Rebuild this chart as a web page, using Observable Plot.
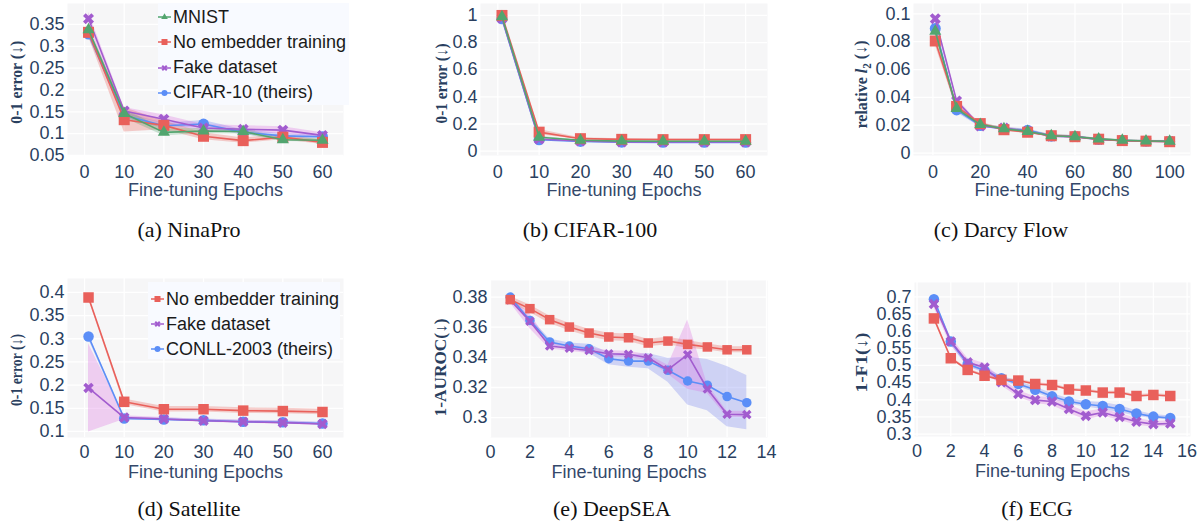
<!DOCTYPE html>
<html>
<head>
<meta charset="utf-8">
<script src="https://cdn.jsdelivr.net/npm/d3@7"></script>
<script src="https://cdn.jsdelivr.net/npm/@observablehq/plot@0.6"></script>
<style>
html,body{margin:0;padding:0;background:#fff;}
body{position:relative;width:1202px;height:523px;overflow:hidden;font-family:"Liberation Sans",Arial,sans-serif;}
.panel{position:absolute;}
.cap{position:absolute;font-family:"Liberation Serif","Times New Roman",serif;font-size:22px;color:#111;transform:translate(-50%,-50%);white-space:nowrap;line-height:1;}
.legend{position:absolute;background:#f8faff;}
.legend .row{position:absolute;left:0;height:24px;display:flex;align-items:center;font-size:18px;color:#1a1a1a;white-space:nowrap;}
</style>
</head>
<body>
<script>
// ================= DATA =================
const seriesLabels = {mnist: "MNIST", none: "No embedder training", fake: "Fake dataset", cifar: "CIFAR-10 (theirs)", conll: "CONLL-2003 (theirs)"};
const xTitle = "Fine-tuning Epochs";

// (a) NinaPro
const aEpochs = [1, 10, 20, 30, 40, 50, 60];
const aMnist = [0.338, 0.146, 0.103, 0.106, 0.105, 0.086, 0.085];
const aMnistErr = [0.008, 0.010, 0.008, 0.006, 0.006, 0.004, 0.004];
const aNone = [0.332, 0.132, 0.119, 0.094, 0.084, 0.092, 0.080];
const aNoneErr = [0.010, 0.028, 0.010, 0.008, 0.006, 0.006, 0.005];
const aFake = [0.363, 0.152, 0.133, 0.113, 0.110, 0.108, 0.096];
const aFakeErr = [0.015, 0.008, 0.010, 0.008, 0.008, 0.008, 0.006];
const aCifar = [0.328, 0.142, 0.118, 0.122, 0.103, 0.095, 0.093];
const aCifarErr = [0.006, 0.006, 0.006, 0.008, 0.006, 0.005, 0.004];
const aXTicks = [0, 10, 20, 30, 40, 50, 60];
const aYTicks = [0.05, 0.1, 0.15, 0.2, 0.25, 0.3, 0.35];

// (b) CIFAR-100
const bEpochs = [1, 10, 20, 30, 40, 50, 60];
const bMnist = [0.99, 0.103, 0.080, 0.074, 0.073, 0.073, 0.073];
const bMnistErr = [0.004, 0.006, 0.003, 0.003, 0.003, 0.003, 0.003];
const bNone = [1.0, 0.140, 0.092, 0.087, 0.085, 0.085, 0.085];
const bNoneErr = [0.004, 0.020, 0.006, 0.004, 0.004, 0.004, 0.004];
const bFake = [0.98, 0.090, 0.075, 0.068, 0.068, 0.068, 0.068];
const bFakeErr = [0.004, 0.004, 0.003, 0.003, 0.003, 0.003, 0.003];
const bCifar = [0.975, 0.084, 0.072, 0.066, 0.065, 0.065, 0.065];
const bCifarErr = [0.004, 0.004, 0.003, 0.003, 0.003, 0.003, 0.003];
const bXTicks = [0, 10, 20, 30, 40, 50, 60];
const bYTicks = [0, 0.2, 0.4, 0.6, 0.8, 1];

// (c) Darcy Flow
const cEpochs = [1, 10, 20, 30, 40, 50, 60, 70, 80, 90, 100];
const cMnist = [0.0875, 0.0320, 0.0205, 0.0175, 0.0155, 0.0125, 0.0118, 0.0102, 0.0092, 0.0087, 0.0085];
const cNone = [0.0805, 0.0335, 0.0212, 0.0168, 0.0150, 0.0125, 0.0118, 0.0100, 0.0090, 0.0086, 0.0082];
const cFake = [0.0965, 0.0375, 0.0195, 0.0180, 0.0155, 0.0122, 0.0117, 0.0098, 0.0090, 0.0086, 0.0083];
const cCifar = [0.0895, 0.0310, 0.0198, 0.0172, 0.0165, 0.0122, 0.0120, 0.0098, 0.0091, 0.0086, 0.0084];
const cErr = [0.003, 0.002, 0.001, 0.001, 0.001, 0.0008, 0.0006, 0.0005, 0.0005, 0.0005, 0.0005];
const cXTicks = [0, 20, 40, 60, 80, 100];
const cYTicks = [0, 0.02, 0.04, 0.06, 0.08, 0.1];

// (d) Satellite
const dEpochs = [1, 10, 20, 30, 40, 50, 60];
const dNone = [0.389, 0.164, 0.148, 0.148, 0.145, 0.144, 0.142];
const dNoneErr = [0.003, 0.006, 0.006, 0.006, 0.006, 0.006, 0.006];
const dFake = [0.194, 0.130, 0.127, 0.123, 0.121, 0.119, 0.116];
const dFakeErr = [0.095, 0.004, 0.003, 0.003, 0.003, 0.003, 0.003];
const dConll = [0.305, 0.128, 0.126, 0.124, 0.121, 0.120, 0.117];
const dConllErr = [0.006, 0.003, 0.003, 0.003, 0.003, 0.003, 0.003];
const dXTicks = [0, 10, 20, 30, 40, 50, 60];
const dYTicks = [0.1, 0.15, 0.2, 0.25, 0.3, 0.35, 0.4];

// (e) DeepSEA
const eEpochs = [1, 2, 3, 4, 5, 6, 7, 8, 9, 10, 11, 12, 13];
const eNone = [0.3783, 0.3723, 0.3650, 0.3601, 0.3561, 0.3535, 0.3530, 0.3495, 0.3508, 0.3486, 0.3469, 0.3450, 0.3450];
const eNoneErr = [0.002, 0.0025, 0.0025, 0.0025, 0.0025, 0.0025, 0.0025, 0.0025, 0.0025, 0.0025, 0.002, 0.002, 0.002];
const eFake = [0.3780, 0.3640, 0.3475, 0.3460, 0.3445, 0.3424, 0.3420, 0.3397, 0.3318, 0.3418, 0.3190, 0.3022, 0.3020];
const eFakeErr = [0.002, 0.005, 0.002, 0.002, 0.002, 0.002, 0.002, 0.002, 0.003, 0.023, 0.003, 0.002, 0.002];
const eCifar = [0.3800, 0.3645, 0.3502, 0.3475, 0.3457, 0.3391, 0.3375, 0.3375, 0.3314, 0.3243, 0.3215, 0.3140, 0.3099];
const eCifarErr = [0.001, 0.002, 0.002, 0.002, 0.003, 0.004, 0.004, 0.005, 0.008, 0.016, 0.017, 0.020, 0.018];
const eXTicks = [0, 2, 4, 6, 8, 10, 12, 14];
const eYTicks = [0.3, 0.32, 0.34, 0.36, 0.38];

// (f) ECG
const fEpochs = [1, 2, 3, 4, 5, 6, 7, 8, 9, 10, 11, 12, 13, 14, 15];
const fNone = [0.637, 0.521, 0.487, 0.470, 0.458, 0.456, 0.446, 0.443, 0.430, 0.427, 0.421, 0.421, 0.411, 0.414, 0.411];
const fNoneErr = [0.004, 0.004, 0.004, 0.004, 0.004, 0.004, 0.004, 0.004, 0.004, 0.004, 0.004, 0.004, 0.004, 0.004, 0.004];
const fFake = [0.679, 0.570, 0.509, 0.494, 0.451, 0.417, 0.399, 0.395, 0.373, 0.353, 0.363, 0.350, 0.336, 0.329, 0.331];
const fFakeErr = [0.010, 0.012, 0.012, 0.012, 0.010, 0.010, 0.010, 0.012, 0.012, 0.012, 0.010, 0.010, 0.010, 0.008, 0.008];
const fCifar = [0.693, 0.570, 0.504, 0.485, 0.463, 0.446, 0.429, 0.410, 0.395, 0.387, 0.382, 0.373, 0.360, 0.351, 0.347];
const fCifarErr = [0.008, 0.008, 0.008, 0.008, 0.006, 0.008, 0.008, 0.008, 0.008, 0.008, 0.010, 0.010, 0.008, 0.006, 0.006];
const fXTicks = [0, 2, 4, 6, 8, 10, 12, 14, 16];
const fYTicks = [0.3, 0.35, 0.4, 0.45, 0.5, 0.55, 0.6, 0.65, 0.7];

const captions = ["(a) NinaPro", "(b) CIFAR-100", "(c) Darcy Flow", "(d) Satellite", "(e) DeepSEA", "(f) ECG"];

// ================= STYLE =================
const COLOR = {mnist: "#52a56f", none: "#e9605b", fake: "#a25ccf", cifar: "#5b8ef7", conll: "#5b8ef7"};
const BAND = {mnist: "#52a56f", none: "#e9605b", fake: "#d96ee0", cifar: "#6f7ef0", conll: "#6f7ef0"};

const symbolX = {
  draw(ctx, size) {
    const r = Math.sqrt(size / Math.PI), w = r * 0.32, s = Math.SQRT1_2;
    const pts = [[w,-r],[w,-w],[r,-w],[r,w],[w,w],[w,r],[-w,r],[-w,w],[-r,w],[-r,-w],[-w,-w],[-w,-r]]
      .map(([x, y]) => [(x - y) * s, (x + y) * s]);
    ctx.moveTo(pts[0][0], pts[0][1]);
    for (let i = 1; i < pts.length; i++) ctx.lineTo(pts[i][0], pts[i][1]);
    ctx.closePath();
  }
};
const SYMBOL = {mnist: "triangle", none: "square", fake: symbolX, cifar: "circle", conll: "circle"};
const RFAC = {mnist: 1 / 2.45, none: 1 / 1.772, fake: 1 / 1.867, cifar: 1 / 2, conll: 1 / 2};

const fmt = d => String(+d.toFixed(4));

function rows(xs, ys, es) {
  return xs.map((x, i) => ({x, y: ys[i], lo: ys[i] - es[i], hi: ys[i] + es[i]}));
}

const panels = [
  {left: 0, top: 0, width: 400, height: 205, mt: 3, mr: 57, mb: 50, ml: 67, xDomain: [-4.3, 65.3], yDomain: [0.05, 0.398],
   xTicks: aXTicks, yTicks: aYTicks, ytitle: "0-1 error (↓)", tlen: 83, tdx: -50.3, tdy: 2.7, m: 11, pad: 10,
   series: [["cifar", aEpochs, aCifar, aCifarErr], ["fake", aEpochs, aFake, aFakeErr], ["none", aEpochs, aNone, aNoneErr], ["mnist", aEpochs, aMnist, aMnistErr]]},
  {left: 400, top: 0, width: 400, height: 205, mt: 3, mr: 33, mb: 50, ml: 80, xDomain: [-4.2, 65.3], yDomain: [-0.032, 1.088],
   xTicks: bXTicks, yTicks: bYTicks, ytitle: "0-1 error (↓)", tlen: 80, tdx: -38.3, tdy: 4, m: 11, pad: 10,
   series: [["cifar", bEpochs, bCifar, bCifarErr], ["fake", bEpochs, bFake, bFakeErr], ["none", bEpochs, bNone, bNoneErr], ["mnist", bEpochs, bMnist, bMnistErr]]},
  {left: 800, top: 0, width: 402, height: 205, mt: 3, mr: 12, mb: 50, ml: 113, xDomain: [-8.2, 108.8], yDomain: [-0.0017, 0.1074],
   xTicks: cXTicks, yTicks: cYTicks, ytitle: "relative l2 (↓)", tlen: 88, tdx: -51.3, tdy: 5, m: 11, pad: 10,
   series: [["cifar", cEpochs, cCifar, cErr], ["fake", cEpochs, cFake, cErr], ["none", cEpochs, cNone, cErr], ["mnist", cEpochs, cMnist, cErr]]},
  {left: 0, top: 265, width: 400, height: 220, mt: 13, mr: 57, mb: 48, ml: 67, xDomain: [-4.3, 65.3], yDomain: [0.087, 0.430],
   xTicks: dXTicks, yTicks: dYTicks, ytitle: "0-1 error (↓)", tlen: 72, tdx: -50.3, tdy: 12, m: 10.5, pad: 8,
   series: [["conll", dEpochs, dConll, dConllErr], ["fake", dEpochs, dFake, dFakeErr], ["none", dEpochs, dNone, dNoneErr]]},
  {left: 400, top: 265, width: 400, height: 220, mt: 15, mr: 33, mb: 48, ml: 90, xDomain: [0, 14.05], yDomain: [0.2868, 0.391],
   xTicks: eXTicks, yTicks: eYTicks, ytitle: "1-AUROC(↓)", tlen: 98, tdx: -50, tdy: 8.5, m: 9.5, pad: 8,
   series: [["cifar", eEpochs, eCifar, eCifarErr], ["fake", eEpochs, eFake, eFakeErr], ["none", eEpochs, eNone, eNoneErr]]},
  {left: 800, top: 265, width: 402, height: 220, mt: 17, mr: 12, mb: 49, ml: 114, xDomain: [-0.15, 16.2], yDomain: [0.293, 0.7417],
   xTicks: fXTicks, yTicks: fYTicks, ytitle: "1-F1(↓)", tlen: 60, tdx: -53, tdy: 3, m: 10.5, pad: 8,
   series: [["cifar", fEpochs, fCifar, fCifarErr], ["fake", fEpochs, fFake, fFakeErr], ["none", fEpochs, fNone, fNoneErr]]}
];

panels.forEach(p => {
  const marks = [
    Plot.frame({fill: "#f6f6f7", stroke: "none"}),
    Plot.gridX(p.xTicks, {stroke: "white", strokeOpacity: 1, strokeWidth: 1.3}),
    Plot.gridY(p.yTicks, {stroke: "white", strokeOpacity: 1, strokeWidth: 1.3})
  ];
  const data = p.series.map(([k, xs, ys, es]) => [k, rows(xs, ys, es)]);
  data.forEach(([k, d]) => marks.push(Plot.areaY(d, {x: "x", y1: "lo", y2: "hi", fill: BAND[k], fillOpacity: 0.3})));
  data.forEach(([k, d]) => {
    marks.push(Plot.lineY(d, {x: "x", y: "y", stroke: COLOR[k], strokeWidth: 1.6}));
    marks.push(Plot.dot(d, {x: "x", y: "y", symbol: SYMBOL[k], r: p.m * RFAC[k], fill: COLOR[k], stroke: "none"}));
  });
  marks.push(Plot.axisX(p.xTicks, {tickSize: 0, tickPadding: p.pad, tickFormat: fmt, label: null}));
  marks.push(Plot.axisY(p.yTicks, {tickSize: 0, tickPadding: 3, tickFormat: fmt, label: null}));
  marks.push(Plot.text([xTitle], {text: d => d, frameAnchor: "bottom", lineAnchor: "middle", textAnchor: "middle", dy: 35, fill: "#34486a"}));
  marks.push(Plot.text([p.ytitle], {text: d => d, frameAnchor: "left", textAnchor: "middle", lineAnchor: "middle", dx: p.tdx, dy: p.tdy, rotate: -90,
    fontFamily: "Liberation Serif, Times New Roman, serif", fontWeight: "bold", fontSize: 16.5, fill: "#2a3f5f"}));

  const svg = Plot.plot({
    width: p.width, height: p.height,
    marginTop: p.mt, marginRight: p.mr, marginBottom: p.mb, marginLeft: p.ml,
    x: {domain: p.xDomain}, y: {domain: p.yDomain},
    style: {fontSize: "18px", fontFamily: "Liberation Sans, Arial, sans-serif", color: "#2a3f5f", background: "transparent", overflow: "visible"},
    marks
  });
  svg.querySelectorAll("text").forEach(t => {
    if (t.textContent === p.ytitle) {
      t.setAttribute("textLength", p.tlen);
      t.setAttribute("lengthAdjust", "spacingAndGlyphs");
      if (p.ytitle === "relative l2 (↓)") {
        const NS = "http://www.w3.org/2000/svg";
        t.textContent = "";
        const parts = [["relative ", {}], ["l", {"font-style": "italic"}], ["2", {"font-size": "0.7em", dy: "0.3em"}], [" (↓)", {dy: "-0.3em"}]];
        parts.forEach(([s, attrs]) => {
          const ts = document.createElementNS(NS, "tspan");
          ts.textContent = s;
          for (const a in attrs) ts.setAttribute(a, attrs[a]);
          t.appendChild(ts);
        });
      }
    }
  });
  const div = document.createElement("div");
  div.className = "panel";
  div.style.left = p.left + "px";
  div.style.top = p.top + "px";
  div.appendChild(svg);
  document.body.appendChild(div);
});

// ================= LEGENDS =================
function legend(items, box) {
  const el = d3.select("body").append("div").attr("class", "legend")
    .style("left", box.left + "px").style("top", box.top + "px")
    .style("width", box.width + "px").style("height", box.height + "px");
  items.forEach((k, i) => {
    const row = el.append("div").attr("class", "row").style("top", (box.first + i * box.step - 12) + "px").style("left", box.sx + "px");
    const s = row.append("svg").attr("width", 15).attr("height", 14);
    s.append("line").attr("x1", 0).attr("x2", 13).attr("y1", 7).attr("y2", 7).attr("stroke", COLOR[k]).attr("stroke-width", 1.5);
    const sz = Math.PI * Math.pow(6 * RFAC[k], 2);
    const t = typeof SYMBOL[k] === "string" ? {square: d3.symbolSquare, triangle: d3.symbolTriangle, circle: d3.symbolCircle}[SYMBOL[k]] : SYMBOL[k];
    s.append("path").attr("transform", "translate(6.5,7)").attr("d", d3.symbol(t, sz)()).attr("fill", COLOR[k]);
    row.append("span").text(seriesLabels[k]);
  });
}
legend(["mnist", "none", "fake", "cifar"], {left: 158, top: 3, width: 191, height: 102, first: 14, step: 25.3, sx: 0});
legend(["none", "fake", "conll"], {left: 148, top: 282, width: 192, height: 77, first: 17, step: 25, sx: 3});

// ================= CAPTIONS =================
const capPos = [[189, 230], [590, 230], [1001, 230], [189, 509], [612, 509], [1037, 509]];
captions.forEach((c, i) => {
  d3.select("body").append("div").attr("class", "cap").style("left", capPos[i][0] + "px").style("top", capPos[i][1] + "px").text(c);
});
</script>
</body>
</html>
